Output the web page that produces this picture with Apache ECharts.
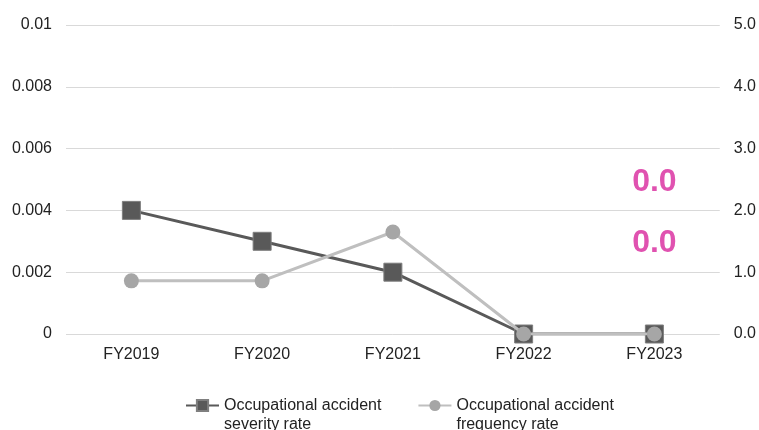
<!DOCTYPE html>
<html>
<head>
<meta charset="utf-8">
<script src="https://cdn.jsdelivr.net/npm/echarts@6/dist/echarts.min.js"></script>
<style>
  html, body { margin: 0; padding: 0; background: #fff; }
  #chart { width: 759px; height: 430px; }
</style>
</head>
<body>
<div id="chart"></div>
<script>
// Fiscal years on the category axis
const years = ['FY2019', 'FY2020', 'FY2021', 'FY2022', 'FY2023'];
// Occupational accident severity rate (left axis)
const severityRate = [0.004, 0.003, 0.002, 0, 0];
// Occupational accident frequency rate (right axis)
const frequencyRate = [0.86, 0.86, 1.65, 0, 0];
// Axis ranges
const leftAxis = { min: 0, max: 0.01, interval: 0.002 };
const rightAxis = { min: 0, max: 5, interval: 1 };

const font = 'Liberation Sans, Arial, sans-serif';
const pink = '#E052B0';

const chart = echarts.init(document.getElementById('chart'), null, { renderer: 'canvas' });

// Large label showing the value of the latest fiscal year
function lastLabel(offsetY) {
  return {
    show: true,
    position: 'top',
    offset: [0, offsetY],
    formatter: p => p.value.toFixed(1),
    color: pink,
    fontSize: 32,
    fontWeight: 'bold',
    fontFamily: font
  };
}

const severityData = severityRate.map((v, i) =>
  i === severityRate.length - 1 ? { value: v, label: lastLabel(-60) } : v);
const frequencyData = frequencyRate.map((v, i) =>
  i === frequencyRate.length - 1 ? { value: v, label: lastLabel(-123) } : v);

chart.setOption({
  animation: false,
  textStyle: { fontFamily: font },
  grid: { left: 66, right: 38, top: 25, bottom: 96 },
  legend: {
    left: 185,
    top: 377,
    padding: 0,
    itemWidth: 33,
    itemHeight: 14,
    itemGap: 36,
    // leading blank line keeps the icon level with the first text line
    formatter: name => '\n' + name,
    textStyle: {
      fontSize: 16,
      color: '#222',
      fontFamily: font,
      lineHeight: 19
    },
    data: ['Occupational accident\nseverity rate', 'Occupational accident\nfrequency rate']
  },
  xAxis: {
    type: 'category',
    data: years,
    boundaryGap: true,
    axisLine: { show: false },
    axisTick: { show: false },
    axisLabel: { color: '#222', fontSize: 16, margin: 13, fontFamily: font }
  },
  yAxis: [
    {
      type: 'value',
      min: leftAxis.min,
      max: leftAxis.max,
      interval: leftAxis.interval,
      axisLine: { show: false },
      axisTick: { show: false },
      splitLine: { lineStyle: { color: '#d9d9d9', width: 1 } },
      axisLabel: { color: '#222', fontSize: 16, margin: 14, fontFamily: font }
    },
    {
      type: 'value',
      min: rightAxis.min,
      max: rightAxis.max,
      interval: rightAxis.interval,
      axisLine: { show: false },
      axisTick: { show: false },
      splitLine: { show: false },
      axisLabel: {
        color: '#222', fontSize: 16, margin: 14, fontFamily: font,
        formatter: v => v.toFixed(1)
      }
    }
  ],
  series: [
    {
      name: 'Occupational accident\nfrequency rate',
      type: 'line',
      yAxisIndex: 1,
      data: frequencyData,
      symbol: 'circle',
      symbolSize: 15,
      lineStyle: { color: '#BFBFBF', width: 3 },
      itemStyle: { color: '#A6A6A6' },
      z: 2
    },
    {
      name: 'Occupational accident\nseverity rate',
      type: 'line',
      yAxisIndex: 0,
      data: severityData,
      symbol: 'rect',
      symbolSize: 18,
      lineStyle: { color: '#595959', width: 3 },
      itemStyle: { color: '#595959', borderColor: '#7F7F7F', borderWidth: 1 },
      z: 1
    }
  ]
});
</script>
</body>
</html>
